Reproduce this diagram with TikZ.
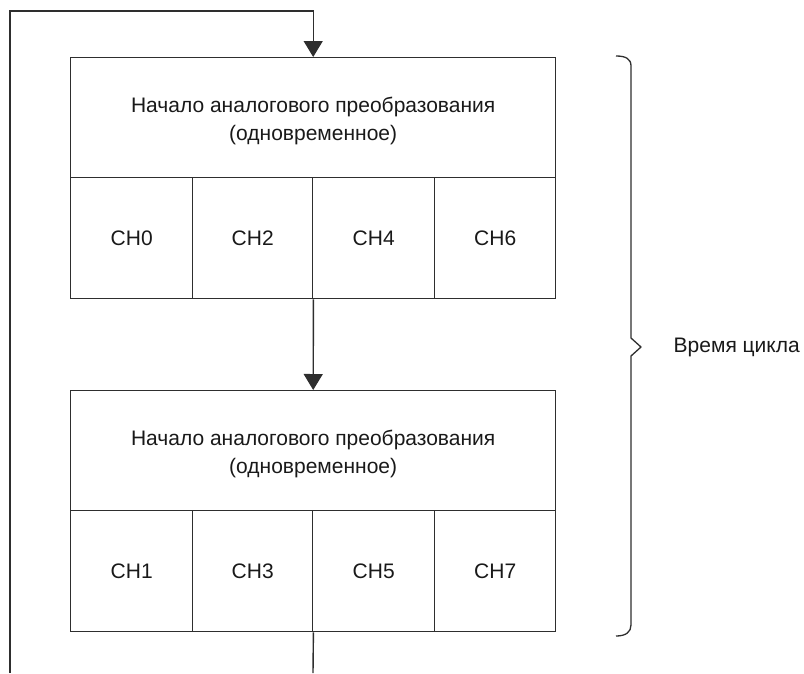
\documentclass[tikz,border=0pt]{standalone}
\usepackage{fontspec}
\setmainfont{Liberation Sans}
\usetikzlibrary{arrows.meta}
\definecolor{ink}{HTML}{2E2E2E}
\begin{document}
\begin{tikzpicture}[x=1pt,y=-1pt,
  line width=1.4pt,
  every node/.style={font=\fontsize{21}{28.5}\selectfont, text=black!90},
  head/.style={draw=ink, minimum width=485pt, minimum height=120pt, inner sep=0pt, anchor=north west, align=center, text height=50.5pt},
  cell/.style={draw=ink, minimum height=121pt, inner sep=0pt, anchor=north west},
  wire/.style={draw=ink, line width=1.4pt},
  arr/.style={wire, -{Triangle[width=19pt,length=16pt]}}]
\useasboundingbox (0,0) rectangle (804,673);
% first conversion group
\node[head] (h1) at (70,57) {Начало аналогового преобразования\\(одновременное)};
\node[cell, minimum width=122pt] (a0) at (70,177) {CH0};
\node[cell, minimum width=120pt] (a2) at (192,177) {CH2};
\node[cell, minimum width=122pt] (a4) at (312,177) {CH4};
\node[cell, minimum width=121pt] (a6) at (434,177) {CH6};
% second conversion group
\node[head] (h2) at (70,390) {Начало аналогового преобразования\\(одновременное)};
\node[cell, minimum width=122pt] (b1) at (70,510) {CH1};
\node[cell, minimum width=120pt] (b3) at (192,510) {CH3};
\node[cell, minimum width=122pt] (b5) at (312,510) {CH5};
\node[cell, minimum width=121pt] (b7) at (434,510) {CH7};
% flow between groups and the return loop
\coordinate (out) at (313,673);
\coordinate (lb) at (10,673);
\coordinate (tl) at (10,11);
\draw[arr] (a2.south east) -- (h2.north);
\draw[wire] (b3.south east) -- (out);
\draw[arr] (lb) -- (tl) -| (h1.north);
% brace spanning one full cycle
\draw[wire, line width=1.3pt, line join=round]
  (616,56) .. controls (626,56) and (631,59) .. (631,66)
  -- (631,338) -- (641,347) -- (631,356)
  -- (631,625) .. controls (631,632) and (626,636) .. (616,636);
\node[anchor=west, inner sep=0pt] (cyc) at (673,347) {Время цикла};
\end{tikzpicture}
\end{document}
